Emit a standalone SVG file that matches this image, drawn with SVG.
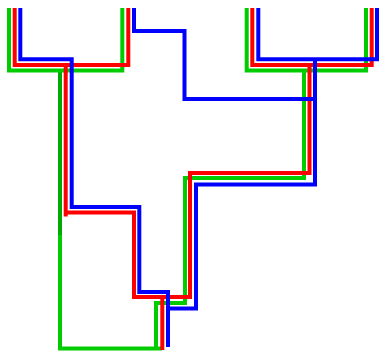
<svg xmlns="http://www.w3.org/2000/svg" width="379" height="351" viewBox="0 0 379 351">
<style>
.e{fill:none;stroke-width:4;stroke-linejoin:miter;stroke-linecap:butt}
.b{stroke:#0000ff}
.r{stroke:#ff0000}
.g{stroke:#00cc00}
.gd{stroke:#00aa00}
</style>
<rect width="379" height="351" fill="#ffffff"/>
<g id="connectors">
<g id="green-tree">
<path class="e g" d="M9,8 V70.5 H122.3 V8"/>
<path class="e g" d="M60,70.5 V348.5 H162"/>
<path class="e gd" d="M60,72 V235"/>
<path class="e g" d="M156,348.5 V303 H185 V178 H304 V70.5"/>
<path class="e g" d="M246.7,8 V70.5 H366 V8"/>
</g>
<g id="red-tree">
<path class="e r" d="M14.7,8 V65 H128.3 V8"/>
<path class="e r" d="M65.7,65 V216.5"/>
<path class="e r" d="M65.7,212.5 H134 V297 H190 V173 H309.5 V65"/>
<path class="e r" d="M252.3,8 V65 H371.7 V8"/>
<path class="e r" d="M162.3,297 V350"/>
</g>
<g id="blue-tree">
<path class="e b" d="M20.3,8 V59.3 H71.7 V207 H139.3 V292 H168 V347"/>
<path class="e b" d="M134,8 V31 H184.5 V99 H315"/>
<path class="e b" d="M258.3,8 V59.3 H377 V8"/>
<path class="e b" d="M315,59.3 V184.5 H196 V308.5 H168"/>
</g>
</g>
</svg>
